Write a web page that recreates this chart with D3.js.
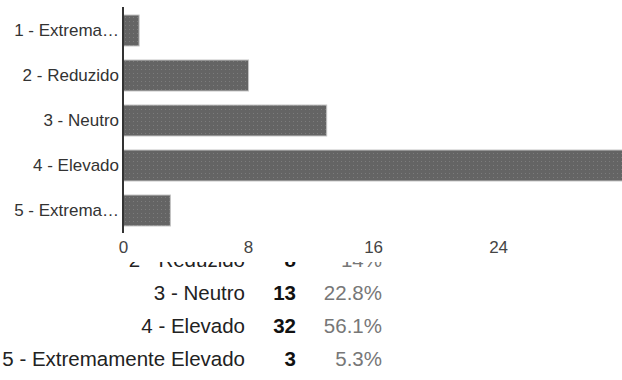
<!DOCTYPE html>
<html><head><meta charset="utf-8">
<script src="https://cdn.jsdelivr.net/npm/d3@7"></script>
<style>
html,body{margin:0;padding:0;background:#fff;}
svg{display:block;font-family:"Liberation Sans",Arial,sans-serif;}
</style></head>
<body>
<svg id="c" width="622" height="380"></svg>
<script>
const categories = ["1 - Extremamente Reduzido","2 - Reduzido","3 - Neutro","4 - Elevado","5 - Extremamente Elevado"];
const counts = [1, 8, 13, 32, 3];
const percents = ["1.8%", "14%", "22.8%", "56.1%", "5.3%"];
const tickValues = [0, 8, 16, 24];

const svg = d3.select("#c");
const W = 622, H = 380;

// Table (drawn first, partially covered by chart background)
const table = svg.append("g");
const rowY = d3.scaleLinear().domain([0, 4]).range([234, 366]);
categories.forEach((c, i) => {
  const y = rowY(i);
  table.append("text").attr("x", 245).attr("y", y).attr("text-anchor", "end")
    .attr("font-size", 20.5).attr("fill", "#222").text(c);
  table.append("text").attr("x", 296).attr("y", y).attr("text-anchor", "end")
    .attr("font-size", 20.5).attr("font-weight", "bold").attr("fill", "#111").text(counts[i]);
  table.append("text").attr("x", 382).attr("y", y).attr("text-anchor", "end")
    .attr("font-size", 20.5).attr("fill", "#777").text(percents[i]);
});

// Chart background covering top of table
svg.append("rect").attr("x", 0).attr("y", 0).attr("width", W).attr("height", 262).attr("fill", "#fff");

// pattern
const defs = svg.append("defs");
const pat = defs.append("pattern").attr("id", "dots").attr("patternUnits", "userSpaceOnUse")
  .attr("width", 4).attr("height", 4);
pat.append("rect").attr("width", 4).attr("height", 4).attr("fill", "#646464");
pat.append("rect").attr("x", 1).attr("y", 1).attr("width", 1).attr("height", 1).attr("fill", "#7c7c7c");

const x0 = 123;
const x = d3.scaleLinear().domain([0, 32]).range([x0, x0 + 32 * 15.63]);
const y = d3.scaleBand().domain(categories).range([8, 233]).paddingInner(0.289).paddingOuter(0.1445);

const g = svg.append("g");
g.selectAll("rect.bar").data(categories).join("rect").attr("class", "bar")
  .attr("x", x(0) + 0.5)
  .attr("y", d => y(d) + 0.5)
  .attr("width", (d, i) => x(counts[i]) - x(0))
  .attr("height", y.bandwidth() - 1)
  .attr("fill", "url(#dots)")
  .attr("stroke", "#c4c4c4").attr("stroke-width", 1);

// y axis
const yAxis = d3.axisLeft(y).tickSize(0).tickPadding(4).tickFormat(d => d);
const ya = g.append("g").attr("transform", `translate(${x0},0)`).call(yAxis);
ya.select(".domain").remove();
ya.selectAll("text").attr("font-size", 17).attr("fill", "#333").attr("font-family", "Liberation Sans, Arial, sans-serif");

function truncate(sel, maxW) {
  sel.each(function(d) {
    const t = d3.select(this);
    t.text(d);
    if (this.getComputedTextLength() <= maxW) return;
    let s = d;
    while (s.length > 0) {
      s = s.slice(0, -1);
      t.text(s + "…");
      if (this.getComputedTextLength() <= maxW) break;
    }
  });
}
truncate(ya.selectAll(".tick text"), 108);

g.append("line").attr("x1", x0).attr("x2", x0).attr("y1", 7).attr("y2", 233)
  .attr("stroke", "#333").attr("stroke-width", 2);

// x axis
const xAxis = d3.axisBottom(x).tickValues(tickValues).tickSize(0).tickPadding(0).tickFormat(d3.format("d"));
const xa = g.append("g").attr("transform", `translate(0,240)`).call(xAxis);
xa.select(".domain").remove();
xa.selectAll("text").attr("font-size", 17).attr("fill", "#444").attr("dy", "0.75em")
  .attr("font-family", "Liberation Sans, Arial, sans-serif");
</script>
</body></html>
